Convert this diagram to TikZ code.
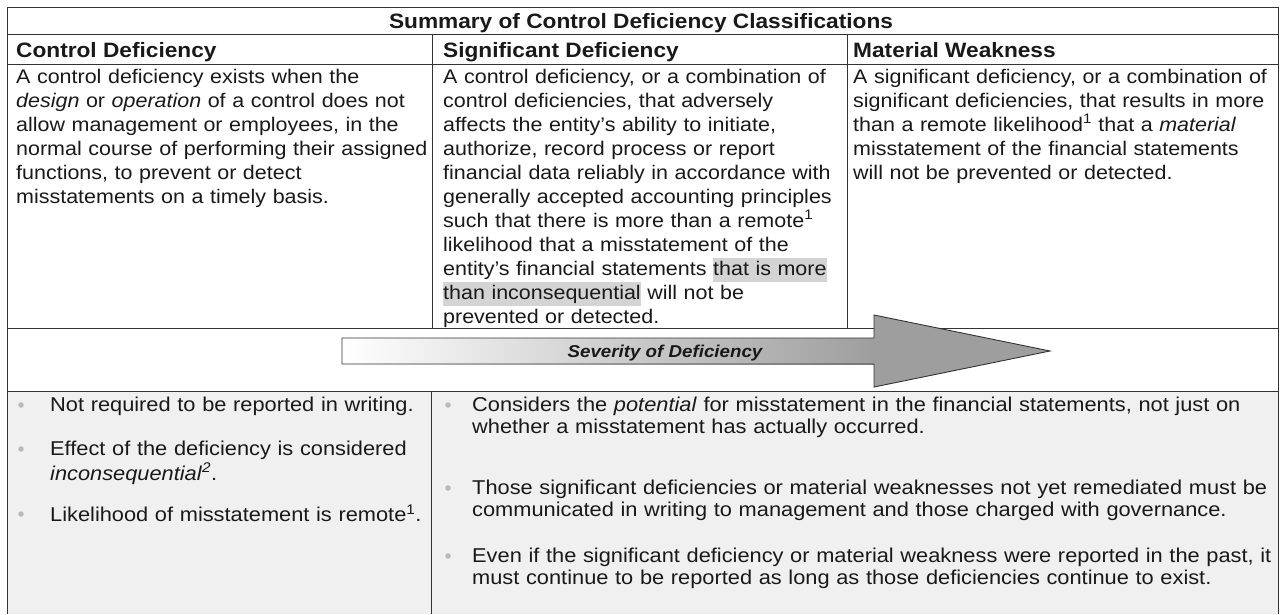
\documentclass[tikz,border=0pt]{standalone}
\usepackage{fontspec}
\setmainfont{Liberation Sans}[FakeStretch=1.09]

\definecolor{rule}{gray}{0.2}
\definecolor{ink}{gray}{0.1}
\definecolor{arrowgray}{gray}{0.62}
\definecolor{lowfill}{gray}{0.94}
\definecolor{hilite}{gray}{0.83}

\newcommand{\marked}[1]{{\setlength{\fboxsep}{0pt}\colorbox{hilite}{\strut #1}}}
\newcommand{\fn}[1]{\textsuperscript{#1}}

\begin{document}
\begin{tikzpicture}[x=1pt,y=-1pt,
    gridline/.style ={draw=rule, line width=0.9pt},
    cellhead/.style ={anchor=base west, inner sep=0pt, text=ink,
                      font=\fontsize{20.8}{24}\selectfont\bfseries},
    celltext/.style ={anchor=north west, inner sep=0pt, text=ink, align=left,
                      text width=#1, font=\fontsize{19.7}{24}\selectfont},
    pointtext/.style={anchor=north west, inner sep=0pt, text=ink, align=left,
                      text width=#1, font=\fontsize{20}{22}\selectfont},
    pointdot/.style ={circle, fill=gray!55, inner sep=0pt, minimum size=5.5pt}]
   \useasboundingbox (0,0) rectangle (1281,614);

   % lower band
   \fill[lowfill] (7,391) rectangle (1278,614);

   % table rules
   \draw[gridline] (7,614) -- (7,7) -- (1278,7) -- (1278,614);
   \draw[gridline] (7,34) -- (1278,34);
   \draw[gridline] (7,64) -- (1278,64);
   \draw[gridline] (432,34) -- (432,328);
   \draw[gridline] (847,34) -- (847,328);
   \draw[gridline] (7,328) -- (1278,328);
   \draw[gridline] (7,391) -- (1278,391);
   \draw[gridline] (431,391) -- (431,614);

   % headings
   \node[anchor=base, inner sep=0pt, text=ink, font=\fontsize{20.8}{24}\selectfont\bfseries]
      (title) at (641,28) {Summary of Control Deficiency Classifications};
   \node[cellhead] (hdcontrol)     at (16,57)  {Control Deficiency};
   \node[cellhead] (hdsignificant) at (443,57) {Significant Deficiency};
   \node[cellhead] (hdmaterial)    at (853,57) {Material Weakness};

   % definitions
   \node[celltext=460pt] (txcontrol) at (16,66.2) {\strut A control deficiency exists when the\\
      \textit{design} or \textit{operation} of a control does not\\
      allow management or employees, in the\\
      normal course of performing their assigned\\
      functions, to prevent or detect\\
      misstatements on a timely basis.};
   \node[celltext=460pt] (txsignificant) at (443,66.2) {\strut A control deficiency, or a combination of\\
      control deficiencies, that adversely\\
      affects the entity's ability to initiate,\\
      authorize, record process or report\\
      financial data reliably in accordance with\\
      generally accepted accounting principles\\
      such that there is more than a remote\fn{1}\\
      likelihood that a misstatement of the\\
      entity's financial statements \marked{that is more}\\
      \marked{than inconsequential} will not be\\
      prevented or detected.};
   \node[celltext=460pt] (txmaterial) at (853,66.2) {\strut A significant deficiency, or a combination of\\
      significant deficiencies, that results in more\\
      than a remote likelihood\fn{1} that a \textit{material}\\
      misstatement of the financial statements\\
      will not be prevented or detected.};

   % severity arrow
   \shade[left color=white, right color=arrowgray] (342,338) rectangle (874,364);
   \fill[arrowgray] (874,315) -- (1050,351) -- (874,387) -- cycle;
   \draw[rule, line width=0.9pt, line join=miter]
      (342,338) -- (874,338) -- (874,315) -- (1050,351) -- (874,387)
      -- (874,364) -- (342,364) -- cycle;
   \node[anchor=base, inner sep=0pt, text=ink, font=\fontsize{17.2}{20}\selectfont\bfseries\itshape]
      (severity) at (665,357) {Severity of Deficiency};

   % lower points, left
   \node[pointdot] (dotA) at (21,405) {};
   \node[pointdot] (dotB) at (21,449) {};
   \node[pointdot] (dotC) at (21,514) {};
   \node[pointtext=400pt] (ptA) at (50,395.6) {\strut Not required to be reported in writing.};
   \node[pointtext=400pt] (ptB) at (50,439.6) {\strut Effect of the deficiency is considered\\
      \textit{inconsequential}\fn{\textit{2}}.};
   \node[pointtext=400pt] (ptC) at (50,504.6) {\strut Likelihood of misstatement is remote\fn{1}.};

   % lower points, right
   \node[pointdot] (dotD) at (448,405) {};
   \node[pointdot] (dotE) at (448,488) {};
   \node[pointdot] (dotF) at (448,556) {};
   \node[pointtext=820pt] (ptD) at (472,395.6) {\strut Considers the \textit{potential} for misstatement in the financial statements, not just on\\
      whether a misstatement has actually occurred.};
   \node[pointtext=820pt] (ptE) at (472,478.6) {\strut Those significant deficiencies or material weaknesses not yet remediated must be\\
      communicated in writing to management and those charged with governance.};
   \node[pointtext=820pt] (ptF) at (472,546.6) {\strut Even if the significant deficiency or material weakness were reported in the past, it\\
      must continue to be reported as long as those deficiencies continue to exist.};
 \end{tikzpicture}
\end{document}
